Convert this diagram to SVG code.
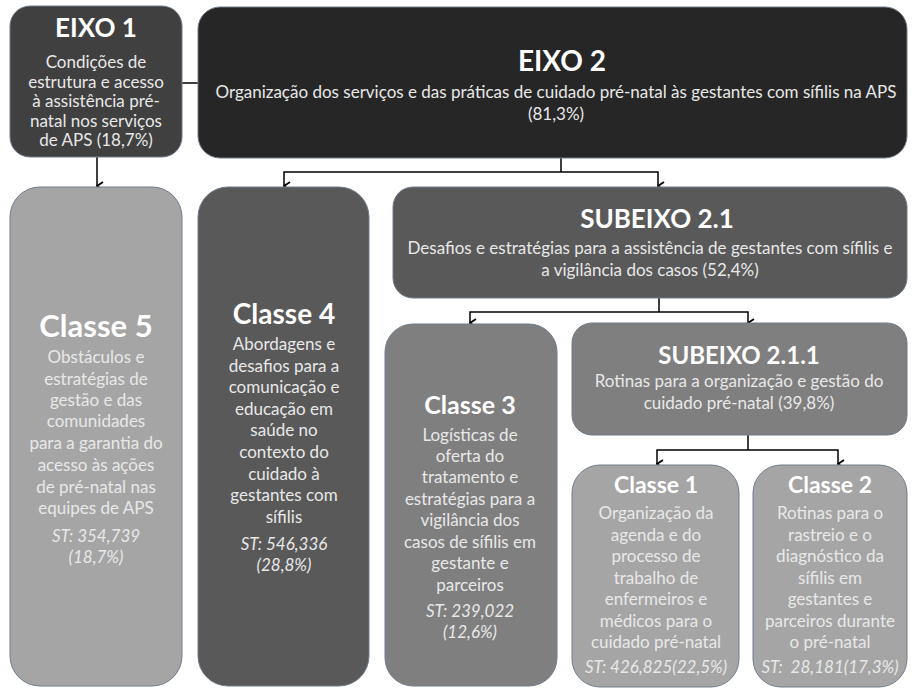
<svg xmlns="http://www.w3.org/2000/svg" width="912" height="688" viewBox="0 0 912 688">
<defs>
<marker id="arr" viewBox="0 0 10 10" refX="5" refY="9" markerWidth="10" markerHeight="10" markerUnits="userSpaceOnUse" orient="auto-start-reverse">
<path d="M1,3 L5,9 L9,3" fill="none" stroke="#000" stroke-width="1.8"/>
</marker>
<style>
.box{stroke:#6f7d8c;stroke-width:1}
text{font-family:Lato,"Open Sans","Liberation Sans",sans-serif;text-anchor:middle}
.t{font-weight:bold;fill:#ffffff}
.b{fill:#e8e8e8;font-size:17px}
.s{font-style:italic}
.c{fill:none;stroke:#000;stroke-width:1.5}
</style>
</defs>
<rect width="912" height="688" fill="#ffffff"/>
<g id="connectors">
<line class="c" x1="182" y1="83" x2="198" y2="83"/>
<line class="c" x1="97" y1="157" x2="97" y2="186" marker-end="url(#arr)"/>
<polyline class="c" points="561,158 561,172"/>
<polyline class="c" points="284,186 284,172 658,172 658,186" marker-start="url(#arr)" marker-end="url(#arr)"/>
<polyline class="c" points="659,298 659,312"/>
<polyline class="c" points="470,323 470,312 748,312 748,323" marker-start="url(#arr)" marker-end="url(#arr)"/>
<polyline class="c" points="748,435 748,450"/>
<polyline class="c" points="657,464 657,450 838,450 838,464" marker-start="url(#arr)" marker-end="url(#arr)"/>
</g>
<g id="eixo1">
<rect class="box" x="10" y="6" width="172" height="151" rx="20" fill="#404040"/>
<text class="t" x="96" y="37" font-size="26">EIXO 1</text>
<text class="b" x="96" y="68">Condições de</text>
<text class="b" x="96" y="88">estrutura e acesso</text>
<text class="b" x="96" y="107">à assistência pré-</text>
<text class="b" x="96" y="127">natal nos serviços</text>
<text class="b" x="96" y="146">de APS (18,7%)</text>
</g>
<g id="eixo2">
<rect class="box" x="198" y="7" width="709" height="151" rx="22" fill="#262626"/>
<text class="t" x="562" y="71" font-size="28">EIXO 2</text>
<text class="b" x="556" y="98">Organização dos serviços e das práticas de cuidado pré-natal às gestantes com sífilis na APS</text>
<text class="b" x="556" y="120">(81,3%)</text>
</g>
<g id="classe5">
<rect class="box" x="10" y="187" width="172" height="499" rx="30" fill="#a5a5a5"/>
<text class="t" x="96" y="337" font-size="31">Classe 5</text>
<text class="b" x="96" y="363">Obstáculos e</text>
<text class="b" x="96" y="385">estratégias de</text>
<text class="b" x="96" y="406">gestão e das</text>
<text class="b" x="96" y="427">comunidades</text>
<text class="b" x="96" y="449">para a garantia do</text>
<text class="b" x="96" y="471">acesso às ações</text>
<text class="b" x="96" y="493">de pré-natal nas</text>
<text class="b" x="96" y="514">equipes de APS</text>
<text class="b s" x="96" y="542">ST: 354,739</text>
<text class="b s" x="96" y="563">(18,7%)</text>
</g>
<g id="classe4">
<rect class="box" x="198" y="187" width="171" height="499" rx="30" fill="#595959"/>
<text class="t" x="284" y="324" font-size="28">Classe 4</text>
<text class="b" x="284" y="350">Abordagens e</text>
<text class="b" x="284" y="372">desafios para a</text>
<text class="b" x="284" y="393">comunicação e</text>
<text class="b" x="284" y="415">educação em</text>
<text class="b" x="284" y="436">saúde no</text>
<text class="b" x="284" y="458">contexto do</text>
<text class="b" x="284" y="480">cuidado à</text>
<text class="b" x="284" y="501">gestantes com</text>
<text class="b" x="284" y="523">sífilis</text>
<text class="b s" x="284" y="550">ST: 546,336</text>
<text class="b s" x="284" y="571">(28,8%)</text>
</g>
<g id="subeixo21">
<rect class="box" x="393" y="187" width="514" height="111" rx="20" fill="#595959"/>
<text class="t" x="657" y="228" font-size="26">SUBEIXO 2.1</text>
<text class="b" x="650" y="254">Desafios e estratégias para a assistência de gestantes com sífilis e</text>
<text class="b" x="650" y="276">a vigilância dos casos (52,4%)</text>
</g>
<g id="classe3">
<rect class="box" x="385" y="324" width="172" height="362" rx="28" fill="#7f7f7f"/>
<text class="t" x="470" y="414" font-size="25">Classe 3</text>
<text class="b" x="470" y="441">Logísticas de</text>
<text class="b" x="470" y="462">oferta do</text>
<text class="b" x="470" y="483">tratamento e</text>
<text class="b" x="470" y="505">estratégias para a</text>
<text class="b" x="470" y="526">vigilância dos</text>
<text class="b" x="470" y="548">casos de sífilis em</text>
<text class="b" x="470" y="569">gestante e</text>
<text class="b" x="470" y="591">parceiros</text>
<text class="b s" x="470" y="617">ST: 239,022</text>
<text class="b s" x="470" y="638">(12,6%)</text>
</g>
<g id="subeixo211">
<rect class="box" x="572" y="323" width="335" height="112" rx="20" fill="#7f7f7f"/>
<text class="t" x="739" y="364" font-size="24">SUBEIXO 2.1.1</text>
<text class="b" x="739" y="387">Rotinas para a organização e gestão do</text>
<text class="b" x="739" y="409">cuidado pré-natal (39,8%)</text>
</g>
<g id="classe1">
<rect class="box" x="572" y="465" width="167" height="222" rx="28" fill="#a5a5a5"/>
<text class="t" x="656" y="493" font-size="23">Classe 1</text>
<text class="b" x="656" y="519">Organização da</text>
<text class="b" x="656" y="541">agenda e do</text>
<text class="b" x="656" y="562">processo de</text>
<text class="b" x="656" y="584">trabalho de</text>
<text class="b" x="656" y="605">enfermeiros e</text>
<text class="b" x="656" y="627">médicos para o</text>
<text class="b" x="656" y="648">cuidado pré-natal</text>
<text class="b s" x="656" y="673">ST: 426,825(22,5%)</text>
</g>
<g id="classe2">
<rect class="box" x="753" y="465" width="154" height="222" rx="28" fill="#a5a5a5"/>
<text class="t" x="830" y="493" font-size="23">Classe 2</text>
<text class="b" x="830" y="519">Rotinas para o</text>
<text class="b" x="830" y="541">rastreio e o</text>
<text class="b" x="830" y="562">diagnóstico da</text>
<text class="b" x="830" y="584">sífilis em</text>
<text class="b" x="830" y="605">gestantes e</text>
<text class="b" x="830" y="627">parceiros durante</text>
<text class="b" x="830" y="648">o pré-natal</text>
<text class="b s" x="830" y="673" xml:space="preserve">ST:  28,181(17,3%)</text>
</g>
</svg>
